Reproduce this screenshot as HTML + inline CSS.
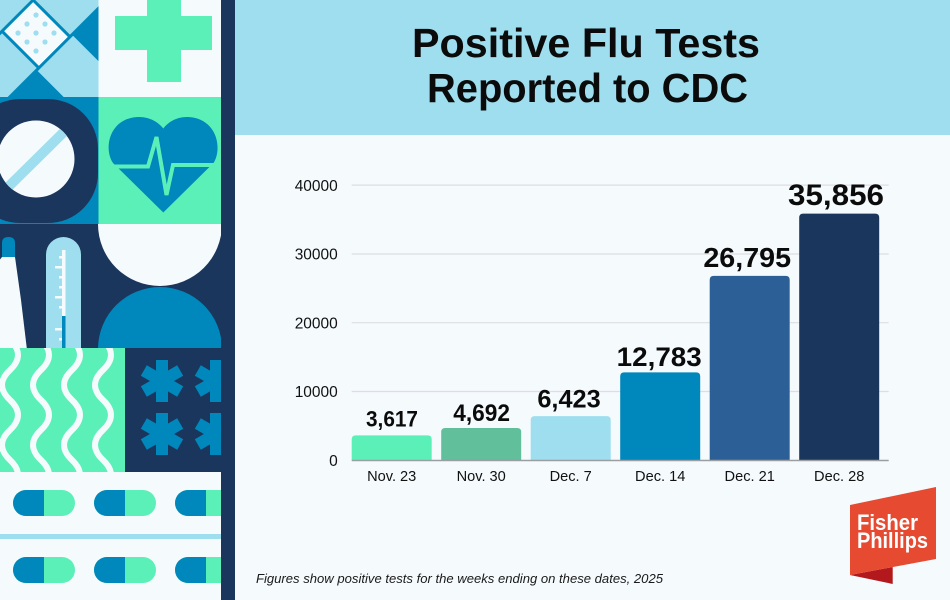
<!DOCTYPE html>
<html>
<head>
<meta charset="utf-8">
<style>
html,body{margin:0;padding:0;background:#f5fafd;}
svg{display:block;}
</style>
</head>
<body>
<svg width="950" height="600" viewBox="0 0 950 600" xmlns="http://www.w3.org/2000/svg">
  <defs>
    <clipPath id="cA"><rect x="0" y="0" width="98.5" height="97"/></clipPath>
    <clipPath id="cC"><rect x="0" y="97" width="98.5" height="127"/></clipPath>
    <clipPath id="cD"><rect x="98.5" y="97" width="122.5" height="127"/></clipPath>
    <clipPath id="cR3"><rect x="0" y="224" width="221" height="124"/></clipPath>
    <clipPath id="cW"><rect x="0" y="348" width="125" height="124"/></clipPath>
    <clipPath id="cS"><rect x="125" y="348" width="96" height="124"/></clipPath>
    <clipPath id="cP"><rect x="0" y="472" width="221" height="128"/></clipPath>
    <clipPath id="cCirc"><circle cx="36" cy="159" r="38.5"/></clipPath>
  </defs>

  <rect x="0" y="0" width="950" height="600" fill="#f5fafd"/>

  <!-- Tile A: bandage -->
  <g clip-path="url(#cA)">
    <rect x="0" y="0" width="98.5" height="97" fill="#0087bb"/>
    <g transform="translate(36,34)">
      <rect transform="rotate(45)" x="-95" y="-25" width="190" height="50" rx="25" fill="#9edeee"/>
      <g transform="rotate(-45)">
        <rect x="-95" y="-26" width="190" height="52" rx="26" fill="#9edeee" stroke="#0087bb" stroke-width="3"/>
        <rect x="-22" y="-24.5" width="44" height="49" fill="#f5fafd"/>
        <line x1="-22" y1="-26" x2="-22" y2="26" stroke="#0087bb" stroke-width="3"/>
        <line x1="22" y1="-26" x2="22" y2="26" stroke="#0087bb" stroke-width="3"/>
      </g>
      <g fill="#9edeee">
        <circle cx="0" cy="-19" r="2.6"/>
        <circle cx="-9" cy="-10" r="2.6"/><circle cx="9" cy="-10" r="2.6"/>
        <circle cx="-18" cy="-1" r="2.6"/><circle cx="0" cy="-1" r="2.6"/><circle cx="18" cy="-1" r="2.6"/>
        <circle cx="-9" cy="8" r="2.6"/><circle cx="9" cy="8" r="2.6"/>
        <circle cx="0" cy="17" r="2.6"/>
      </g>
    </g>
  </g>

  <!-- Tile B: cross -->
  <rect x="98.5" y="0" width="122.5" height="97" fill="#f5fafd"/>
  <rect x="115" y="16" width="97" height="34" fill="#5cf0b9"/>
  <rect x="147" y="0" width="34" height="82" fill="#5cf0b9"/>

  <!-- Tile C -->
  <g clip-path="url(#cC)">
    <rect x="0" y="97" width="98.5" height="127" fill="#0087bb"/>
    <rect x="-30" y="99" width="128" height="124" rx="50" fill="#1b365d"/>
    <circle cx="36" cy="159" r="38.5" fill="#f5fafd"/>
    <g clip-path="url(#cCirc)">
      <line x1="0" y1="195" x2="72" y2="124" stroke="#9edeee" stroke-width="10"/>
    </g>
  </g>

  <!-- Tile D: heart -->
  <g clip-path="url(#cD)">
    <rect x="98.5" y="97" width="122.5" height="127" fill="#5cf0b9"/>
    <path d="M163.3,212.5 L113,163 C104,150 108,122 133,117.5 C149,115 159,123 163.3,128.5 C167.5,123 177,115 193,117.5 C218,122 222,150 213.5,163 Z" fill="#0087bb"/>
    <polyline points="106,166.5 148,166.5 156.5,137 166.5,195 173,165 214,165" fill="none" stroke="#5cf0b9" stroke-width="4" stroke-linejoin="miter"/>
  </g>

  <!-- Row 3 -->
  <g clip-path="url(#cR3)">
    <rect x="0" y="224" width="221" height="124" fill="#1b365d"/>
    <circle cx="160" cy="224" r="62" fill="#f5fafd"/>
    <circle cx="160" cy="349" r="62" fill="#0087bb"/>
    <path d="M2,257 L15,257 L21,300 L27,350 L-2,350 L-2,262 Z" fill="#f5fafd"/>
    <path d="M2,257 L2,243 Q2,237 8.5,237 Q15,237 15,243 L15,257 Z" fill="#0087bb"/>
    <rect x="46" y="237" width="35" height="130" rx="17.5" fill="#9edeee"/>
    <rect x="62" y="250" width="3.5" height="100" fill="#f5fafd"/>
    <g fill="#f5fafd">
      <rect x="59" y="256" width="4" height="2.5"/>
      <rect x="55" y="266" width="8" height="2.5"/>
      <rect x="59" y="276" width="4" height="2.5"/>
      <rect x="59" y="286" width="4" height="2.5"/>
      <rect x="55" y="296" width="8" height="2.5"/>
      <rect x="59" y="306" width="4" height="2.5"/>
      <rect x="55" y="328" width="8" height="2.5"/>
      <rect x="59" y="338" width="4" height="2.5"/>
    </g>
    <rect x="62" y="316" width="3.5" height="34" fill="#0087bb"/>
  </g>

  <!-- Row 4: waves -->
  <g clip-path="url(#cW)">
    <rect x="0" y="348" width="125" height="124" fill="#5cf0b9"/>
    <g fill="none" stroke="#f5fafd" stroke-width="6" stroke-linecap="butt">
      <path d="M10,340 Q26,355 10,370 T10,400 T10,430 T10,460 T10,490"/>
      <path d="M41,340 Q57,355 41,370 T41,400 T41,430 T41,460 T41,490"/>
      <path d="M72,340 Q88,355 72,370 T72,400 T72,430 T72,460 T72,490"/>
      <path d="M103,340 Q119,355 103,370 T103,400 T103,430 T103,460 T103,490"/>
    </g>
  </g>

  <!-- Row 4: asterisks -->
  <g clip-path="url(#cS)">
    <rect x="125" y="348" width="96" height="124" fill="#1b365d"/>
    <g fill="#0087bb">
      <g transform="translate(162,381)">
        <rect x="-6" y="-21" width="12" height="42"/>
        <rect x="-6" y="-21" width="12" height="42" transform="rotate(60)"/>
        <rect x="-6" y="-21" width="12" height="42" transform="rotate(-60)"/>
      </g>
      <g transform="translate(162,434)">
        <rect x="-6" y="-21" width="12" height="42"/>
        <rect x="-6" y="-21" width="12" height="42" transform="rotate(60)"/>
        <rect x="-6" y="-21" width="12" height="42" transform="rotate(-60)"/>
      </g>
      <g transform="translate(216,381)">
        <rect x="-6" y="-21" width="12" height="42"/>
        <rect x="-6" y="-21" width="12" height="42" transform="rotate(60)"/>
        <rect x="-6" y="-21" width="12" height="42" transform="rotate(-60)"/>
      </g>
      <g transform="translate(216,434)">
        <rect x="-6" y="-21" width="12" height="42"/>
        <rect x="-6" y="-21" width="12" height="42" transform="rotate(60)"/>
        <rect x="-6" y="-21" width="12" height="42" transform="rotate(-60)"/>
      </g>
    </g>
  </g>

  <!-- Row 5: pills -->
  <g clip-path="url(#cP)">
    <rect x="0" y="472" width="221" height="128" fill="#f5fafd"/>
    <rect x="0" y="534" width="221" height="5" fill="#9edeee"/>
    <rect x="13" y="490" width="62" height="26" rx="13" fill="#5cf0b9"/>
    <path d="M44,490 L26,490 A13,13 0 0 0 26,516 L44,516 Z" fill="#0087bb"/>
    <rect x="94" y="490" width="62" height="26" rx="13" fill="#5cf0b9"/>
    <path d="M125,490 L107,490 A13,13 0 0 0 107,516 L125,516 Z" fill="#0087bb"/>
    <rect x="175" y="490" width="62" height="26" rx="13" fill="#5cf0b9"/>
    <path d="M206,490 L188,490 A13,13 0 0 0 188,516 L206,516 Z" fill="#0087bb"/>
    <rect x="13" y="557" width="62" height="26" rx="13" fill="#5cf0b9"/>
    <path d="M44,557 L26,557 A13,13 0 0 0 26,583 L44,583 Z" fill="#0087bb"/>
    <rect x="94" y="557" width="62" height="26" rx="13" fill="#5cf0b9"/>
    <path d="M125,557 L107,557 A13,13 0 0 0 107,583 L125,583 Z" fill="#0087bb"/>
    <rect x="175" y="557" width="62" height="26" rx="13" fill="#5cf0b9"/>
    <path d="M206,557 L188,557 A13,13 0 0 0 188,583 L206,583 Z" fill="#0087bb"/>
  </g>

  <rect x="221" y="0" width="14" height="600" fill="#1b365d"/>

  <!-- HEADER -->
  <rect x="235" y="0" width="715" height="135" fill="#9edeee"/>
  <g font-family="'Liberation Sans', sans-serif" font-weight="bold" font-size="41" fill="#0b0b0b">
    <text x="412" y="57" textLength="348" lengthAdjust="spacingAndGlyphs">Positive Flu Tests</text>
    <text x="427" y="102" textLength="321" lengthAdjust="spacingAndGlyphs">Reported to CDC</text>
  </g>

  <!-- CHART -->
  <g stroke="#dcdfe2" stroke-width="1.2">
    <line x1="351.7" y1="185.1" x2="888.7" y2="185.1"/>
    <line x1="351.7" y1="254" x2="888.7" y2="254"/>
    <line x1="351.7" y1="322.7" x2="888.7" y2="322.7"/>
    <line x1="351.7" y1="391.5" x2="888.7" y2="391.5"/>
  </g>

  <g font-family="'Liberation Sans', sans-serif" font-size="15.5" fill="#111" text-anchor="end">
    <text x="337.7" y="190.8" textLength="43" lengthAdjust="spacingAndGlyphs">40000</text>
    <text x="337.7" y="259.7" textLength="43" lengthAdjust="spacingAndGlyphs">30000</text>
    <text x="337.7" y="328.4" textLength="43" lengthAdjust="spacingAndGlyphs">20000</text>
    <text x="337.7" y="397.2" textLength="43" lengthAdjust="spacingAndGlyphs">10000</text>
    <text x="337.7" y="466">0</text>
  </g>

  <path d="M351.7,460.3 L351.7,439.4 Q351.7,435.4 355.7,435.4 L427.7,435.4 Q431.7,435.4 431.7,439.4 L431.7,460.3 Z" fill="#5cf0b9"/>
  <path d="M441.2,460.3 L441.2,432 Q441.2,428 445.2,428 L517.2,428 Q521.2,428 521.2,432 L521.2,460.3 Z" fill="#61bf9c"/>
  <path d="M530.7,460.3 L530.7,420.1 Q530.7,416.1 534.7,416.1 L606.7,416.1 Q610.7,416.1 610.7,420.1 L610.7,460.3 Z" fill="#9edeee"/>
  <path d="M620.2,460.3 L620.2,376.4 Q620.2,372.4 624.2,372.4 L696.2,372.4 Q700.2,372.4 700.2,376.4 L700.2,460.3 Z" fill="#0087bb"/>
  <path d="M709.7,460.3 L709.7,279.9 Q709.7,275.9 713.7,275.9 L785.7,275.9 Q789.7,275.9 789.7,279.9 L789.7,460.3 Z" fill="#2d5f97"/>
  <path d="M799.2,460.3 L799.2,217.6 Q799.2,213.6 803.2,213.6 L875.2,213.6 Q879.2,213.6 879.2,217.6 L879.2,460.3 Z" fill="#1b365d"/>

  <line x1="351.7" y1="460.5" x2="888.7" y2="460.5" stroke="#9a9ea3" stroke-width="1.5"/>

  <g font-family="'Liberation Sans', sans-serif" font-weight="bold" fill="#0b0b0b" text-anchor="middle">
    <text x="392" y="426.7" font-size="22" textLength="52" lengthAdjust="spacingAndGlyphs">3,617</text>
    <text x="481.6" y="421" font-size="23.7" textLength="56.7" lengthAdjust="spacingAndGlyphs">4,692</text>
    <text x="569" y="407.3" font-size="25.1" textLength="63.3" lengthAdjust="spacingAndGlyphs">6,423</text>
    <text x="659.2" y="366" font-size="27" textLength="85" lengthAdjust="spacingAndGlyphs">12,783</text>
    <text x="747.2" y="267" font-size="28" textLength="87.7" lengthAdjust="spacingAndGlyphs">26,795</text>
    <text x="836" y="205" font-size="29.3" textLength="96" lengthAdjust="spacingAndGlyphs">35,856</text>
  </g>

  <g font-family="'Liberation Sans', sans-serif" font-size="14.6" fill="#111" text-anchor="middle">
    <text x="391.7" y="481">Nov. 23</text>
    <text x="481.2" y="481">Nov. 30</text>
    <text x="570.7" y="481">Dec. 7</text>
    <text x="660.2" y="481">Dec. 14</text>
    <text x="749.7" y="481">Dec. 21</text>
    <text x="839.2" y="481">Dec. 28</text>
  </g>

  <text x="256" y="583" font-family="'Liberation Sans', sans-serif" font-style="italic" font-size="13" fill="#1a1a1a" textLength="407" lengthAdjust="spacingAndGlyphs">Figures show positive tests for the weeks ending on these dates, 2025</text>

  <polygon points="850,575 892.7,567 892.7,584" fill="#b3181d"/>
  <polygon points="850,505 936,487 936,559 850,575" fill="#e64a31"/>
  <g font-family="'Liberation Sans', sans-serif" font-weight="bold" fill="#ffffff">
    <text x="857" y="530" font-size="22" textLength="61" lengthAdjust="spacingAndGlyphs">Fisher</text>
    <text x="857" y="548" font-size="22" textLength="71" lengthAdjust="spacingAndGlyphs">Phillips</text>
  </g>
</svg>
</body>
</html>
